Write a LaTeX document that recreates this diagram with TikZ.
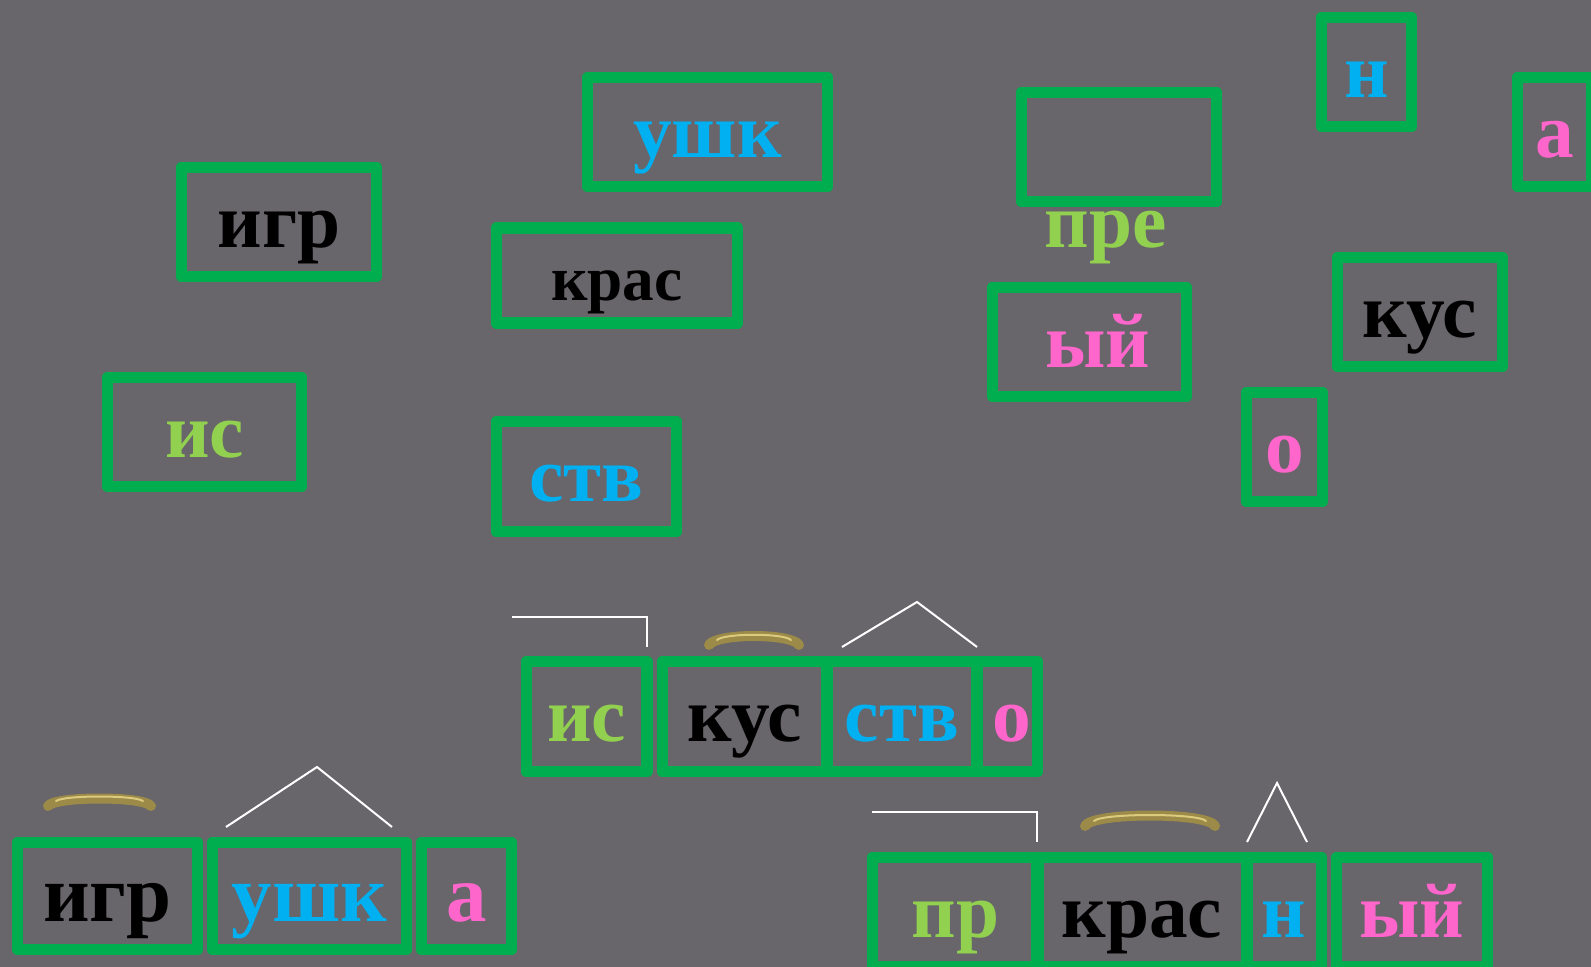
\documentclass[tikz,border=0pt]{standalone}
\usepackage{fontspec}
\setmainfont{Liberation Serif}
\definecolor{bg}{HTML}{68656B}
\definecolor{boxgreen}{HTML}{00AD4F}
\definecolor{rootgold}{HTML}{9C8A48}
\definecolor{rootlight}{HTML}{DCCB7E}
\definecolor{prefgreen}{HTML}{92D050}
\definecolor{sufblue}{HTML}{00B0F0}
\definecolor{endpink}{HTML}{FF66CC}
\tikzset{
  cell/.style={draw=boxgreen, line width=0.116cm, line join=round, inner sep=0pt,
    minimum height=1.09cm, text height=0.5cm, text depth=0cm,
    font=\fontsize{22}{26}\selectfont\bfseries},
  morphroot/.style={text=black},
  morphpref/.style={text=prefgreen},
  morphsuf/.style={text=sufblue},
  morphend/.style={text=endpink},
  rootarc/.style={rootgold, line width=0.1cm, line cap=round},
  rootshine/.style={rootlight, line width=0.02cm, line cap=round},
  signline/.style={white, line width=0.02cm}
}
\begin{document}
\begin{tikzpicture}[x=0.01cm, y=-0.01cm]
                \fill[bg] (0,0) rectangle (1591,967);
                \useasboundingbox (0,0) rectangle (1591,967);

                \node[cell, morphroot, minimum width=1.95cm] (igrtop) at (279,222) {игр};
                \node[cell, morphsuf, minimum width=2.40cm] (ushktop) at (707.5,132) {ушк};
                \node[cell, morphroot, minimum width=2.41cm, minimum height=0.95cm,
                      font=\fontsize{18}{22}\selectfont\bfseries] (krastop) at (617,275.5) {крас};
                \node[cell, morphpref, minimum width=1.94cm] (istop) at (204.5,432) {ис};
                \node[cell, morphsuf, minimum width=1.80cm, minimum height=1.10cm] (stvtop) at (586.5,476.5) {ств};
                \node[cell, minimum width=1.95cm] (emptytop) at (1119,147) {};
                \node[morphpref, anchor=base, inner sep=0pt,
                      font=\fontsize{22}{26}\selectfont\bfseries] (pretop) at (1105.5,248) {пре};
                \node[cell, morphsuf, minimum width=0.90cm] (ntop) at (1366.5,72) {н};
                \node[cell, morphend, minimum width=0.74cm] (atop) at (1554.5,132) {а};
                \node[cell, morphend, minimum width=1.94cm] (yjtop) at (1089.5,342) {\hspace{0.16cm}ый};
                \node[cell, morphroot, minimum width=1.65cm] (kustop) at (1420,312) {кус};
                \node[cell, morphend, minimum width=0.76cm] (otop) at (1284.5,447) {о};

                \node[cell, morphroot, minimum width=1.80cm, minimum height=1.07cm,
                      font=\fontsize{23}{27}\selectfont\bfseries] (igr) at (107.5,896) {игр};
                \node[cell, morphsuf, minimum width=1.94cm, minimum height=1.07cm,
                      font=\fontsize{23}{27}\selectfont\bfseries] (ushk) at (309.5,896) {ушк};
                \node[cell, morphend, minimum width=0.90cm, minimum height=1.07cm,
                      font=\fontsize{23}{27}\selectfont\bfseries] (a) at (466.5,896) {а};

                \node[cell, morphpref, minimum width=1.205cm, minimum height=1.10cm] (is) at (586.75,716.5) {ис};
                \node[cell, morphroot, minimum width=1.65cm, minimum height=1.10cm] (kus) at (745,716.5) {кус};
                \node[cell, morphsuf, minimum width=1.51cm, minimum height=1.10cm] (stv) at (902,716.5) {ств};
                \node[cell, morphend, minimum width=0.61cm, minimum height=1.10cm] (o) at (1007,716.5) {\hspace{0.1cm}о};

                \node[cell, morphpref, minimum width=1.66cm] (pr) at (955.5,912) {пр};
                \node[cell, morphroot, minimum width=2.11cm] (kras) at (1142,912) {крас};
                \node[cell, morphsuf, minimum width=0.75cm] (n) at (1284,912) {н};
                \node[cell, morphend, minimum width=1.51cm] (yj) at (1412,912) {ый};

                \draw[rootarc] (48,806) .. controls (55,796) and (144,796) .. (151,806);
                \draw[rootshine] (56,801) .. controls (64,795) and (135,795) .. (143,801);
                \draw[rootarc] (709,645) .. controls (716,633) and (792,633) .. (799,645);
                \draw[rootshine] (717,640) .. controls (724,633) and (784,633) .. (791,640);
                \draw[rootarc] (1085,826) .. controls (1092,812) and (1208,812) .. (1215,826);
                \draw[rootshine] (1094,821) .. controls (1102,813) and (1198,813) .. (1206,821);

                \draw[signline] (226,827) -- (317,767) -- (392,827);
                \draw[signline] (842,647) -- (917,602) -- (977,647);
                \draw[signline] (1247,842) -- (1277,783) -- (1307,842);

                \draw[signline] (512,617) -- (647,617) -- (647,647);
                \draw[signline] (872,812) -- (1037,812) -- (1037,842);
            \end{tikzpicture}
\end{document}
